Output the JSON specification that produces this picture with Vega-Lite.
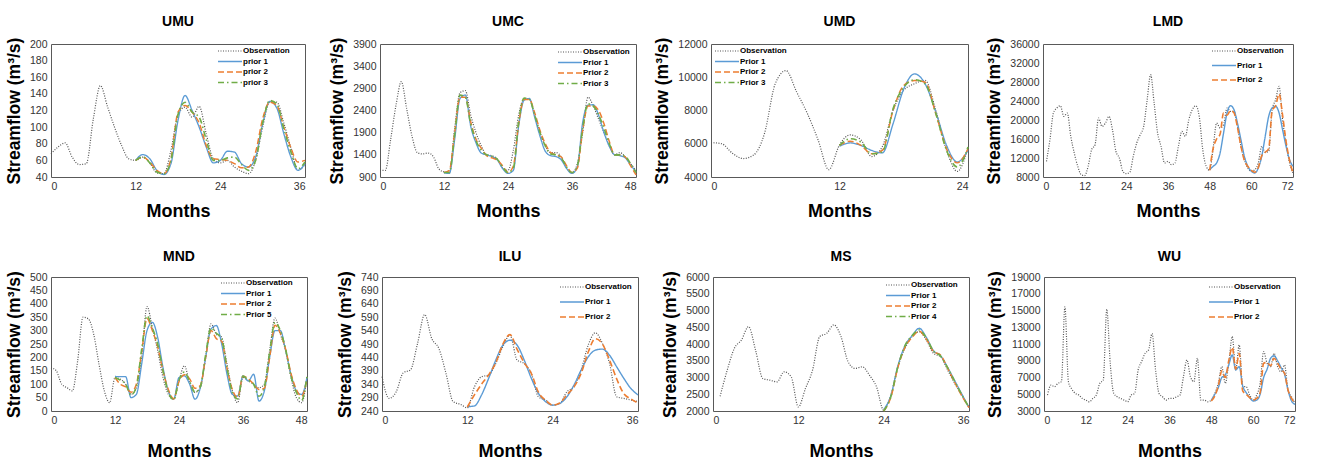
{
"$schema": "https://vega.github.io/schema/vega-lite/v6.json",
"padding": {"left": 4, "top": 14, "right": 5, "bottom": 2},
"config": {
  "font": "Liberation Sans",
  "view": {"stroke": "#595959", "strokeWidth": 1},
  "axis": {"labelFont": "Liberation Sans", "labelFontSize": 10.5, "labelColor": "#333333", "ticks": false, "domain": false, "grid": false, "titleFont": "Liberation Sans", "titleFontWeight": "bold", "titleColor": "#000000", "labelPadding": 4},
  "axisX": {"titleFontSize": 18, "titlePadding": 11},
  "axisY": {"titleFontSize": 17.5, "titlePadding": 6},
  "title": {"font": "Liberation Sans", "fontSize": 14, "fontWeight": "bold", "color": "#000000", "offset": 8},
  "legend": {"orient": "none", "title": null, "symbolType": "M-4,0L4,0", "symbolSize": 36, "symbolStrokeWidth": 1.5, "labelFont": "Liberation Sans", "labelFontSize": 8, "labelFontWeight": "bold", "labelColor": "#000000", "labelOffset": 9, "padding": 0, "rowPadding": 2.5}
},
"resolve": {"scale": {"color": "independent", "strokeDash": "independent", "strokeWidth": "independent"}, "legend": {"color": "independent", "strokeDash": "independent"}},
"vconcat": [
{
"resolve": {"scale": {"color": "independent", "strokeDash": "independent", "strokeWidth": "independent"}, "legend": {"color": "independent", "strokeDash": "independent"}},
"hconcat": [
{
 "title": "UMU", "width": 254, "height": 133,
 "data": {"values": [
  {"m":0,"Observation":68},{"m":1,"Observation":76},{"m":2,"Observation":81},{"m":3,"Observation":64},{"m":4,"Observation":55},{"m":5,"Observation":56},{"m":6,"Observation":110},{"m":7,"Observation":150},{"m":8,"Observation":125},{"m":9,"Observation":100},{"m":10,"Observation":78},{"m":11,"Observation":62},
  {"m":12,"Observation":60,"prior 1":60,"prior 2":60,"prior 3":60},
  {"m":13,"Observation":64,"prior 1":67,"prior 2":64,"prior 3":64},
  {"m":14,"Observation":57,"prior 1":62,"prior 2":58,"prior 3":57},
  {"m":15,"Observation":45,"prior 1":48,"prior 2":48,"prior 3":46},
  {"m":16,"Observation":44,"prior 1":43,"prior 2":44,"prior 3":44},
  {"m":17,"Observation":72,"prior 1":56,"prior 2":62,"prior 3":60},
  {"m":18,"Observation":115,"prior 1":108,"prior 2":118,"prior 3":115},
  {"m":19,"Observation":124,"prior 1":138,"prior 2":126,"prior 3":130},
  {"m":20,"Observation":112,"prior 1":120,"prior 2":118,"prior 3":118},
  {"m":21,"Observation":125,"prior 1":100,"prior 2":105,"prior 3":112},
  {"m":22,"Observation":92,"prior 1":76,"prior 2":78,"prior 3":85},
  {"m":23,"Observation":62,"prior 1":57,"prior 2":62,"prior 3":60},
  {"m":24,"Observation":57,"prior 1":60,"prior 2":61,"prior 3":60},
  {"m":25,"Observation":60,"prior 1":71,"prior 2":60,"prior 3":63},
  {"m":26,"Observation":52,"prior 1":70,"prior 2":56,"prior 3":64},
  {"m":27,"Observation":47,"prior 1":56,"prior 2":51,"prior 3":55},
  {"m":28,"Observation":44,"prior 1":52,"prior 2":52,"prior 3":48},
  {"m":29,"Observation":60,"prior 1":64,"prior 2":70,"prior 3":60},
  {"m":30,"Observation":100,"prior 1":104,"prior 2":110,"prior 3":105},
  {"m":31,"Observation":130,"prior 1":131,"prior 2":130,"prior 3":132},
  {"m":32,"Observation":130,"prior 1":123,"prior 2":126,"prior 3":128},
  {"m":33,"Observation":105,"prior 1":92,"prior 2":100,"prior 3":98},
  {"m":34,"Observation":75,"prior 1":64,"prior 2":75,"prior 3":70},
  {"m":35,"Observation":48,"prior 1":48,"prior 2":58,"prior 3":50},
  {"m":36,"Observation":55,"prior 1":56,"prior 2":60,"prior 3":58}
 ]},
 "transform": [{"fold": ["Observation","prior 1","prior 2","prior 3"], "as": ["series","value"]}],
 "mark": {"type": "line", "interpolate": "monotone"},
 "encoding": {
  "x": {"field": "m", "type": "quantitative", "scale": {"domain": [0,36], "nice": false}, "axis": {"values": [0,12,24,36], "title": "Months"}},
  "y": {"field": "value", "type": "quantitative", "scale": {"domain": [40,200], "nice": false, "zero": false}, "axis": {"values": [40,60,80,100,120,140,160,180,200], "title": "Streamflow (m³/s)"}},
  "color": {"field": "series", "type": "nominal", "scale": {"domain": ["Observation","prior 1","prior 2","prior 3"], "range": ["#555555","#5B9BD5","#ED7D31","#70AD47"]}, "legend": {"legendX": 175, "legendY": 3}},
  "strokeDash": {"field": "series", "type": "nominal", "scale": {"domain": ["Observation","prior 1","prior 2","prior 3"], "range": [[1,1.5],[1,0],[6,3],[6,3,1.5,3]]}, "legend": {"legendX": 175, "legendY": 3}},
  "strokeWidth": {"field": "series", "type": "nominal", "scale": {"domain": ["Observation","prior 1","prior 2","prior 3"], "range": [1.2,1.6,1.6,1.6]}, "legend": null}
 }
},
{
 "title": "UMC", "width": 256, "height": 133,
 "data": {"values": [
  {"m":0,"Observation":1050},{"m":1,"Observation":1050},{"m":2,"Observation":1750},{"m":3,"Observation":2520},{"m":4,"Observation":3050},{"m":5,"Observation":2440},{"m":6,"Observation":1820},{"m":7,"Observation":1450},{"m":8,"Observation":1420},{"m":9,"Observation":1440},{"m":10,"Observation":1360},{"m":11,"Observation":1090},
  {"m":12,"Observation":1015,"Prior 1":992,"Prior 2":1000,"Prior 3":1000},
  {"m":13,"Observation":1000,"Prior 1":980,"Prior 2":1050,"Prior 3":1000},
  {"m":14,"Observation":2000,"Prior 1":1750,"Prior 2":1900,"Prior 3":1850},
  {"m":15,"Observation":2800,"Prior 1":2670,"Prior 2":2700,"Prior 3":2750},
  {"m":16,"Observation":2850,"Prior 1":2750,"Prior 2":2700,"Prior 3":2700},
  {"m":17,"Observation":2300,"Prior 1":2050,"Prior 2":2150,"Prior 3":2100},
  {"m":18,"Observation":1900,"Prior 1":1670,"Prior 2":1750,"Prior 3":1720},
  {"m":19,"Observation":1600,"Prior 1":1440,"Prior 2":1550,"Prior 3":1500},
  {"m":20,"Observation":1400,"Prior 1":1400,"Prior 2":1380,"Prior 3":1400},
  {"m":21,"Observation":1380,"Prior 1":1360,"Prior 2":1330,"Prior 3":1370},
  {"m":22,"Observation":1300,"Prior 1":1285,"Prior 2":1280,"Prior 3":1300},
  {"m":23,"Observation":1100,"Prior 1":1090,"Prior 2":1150,"Prior 3":1120},
  {"m":24,"Observation":1050,"Prior 1":980,"Prior 2":1000,"Prior 3":1000},
  {"m":25,"Observation":1500,"Prior 1":1050,"Prior 2":1150,"Prior 3":1100},
  {"m":26,"Observation":2300,"Prior 1":2050,"Prior 2":2100,"Prior 3":2150},
  {"m":27,"Observation":2650,"Prior 1":2630,"Prior 2":2650,"Prior 3":2680},
  {"m":28,"Observation":2650,"Prior 1":2670,"Prior 2":2650,"Prior 3":2650},
  {"m":29,"Observation":2300,"Prior 1":2250,"Prior 2":2350,"Prior 3":2300},
  {"m":30,"Observation":1900,"Prior 1":1820,"Prior 2":1950,"Prior 3":1900},
  {"m":31,"Observation":1600,"Prior 1":1480,"Prior 2":1650,"Prior 3":1600},
  {"m":32,"Observation":1450,"Prior 1":1380,"Prior 2":1450,"Prior 3":1420},
  {"m":33,"Observation":1450,"Prior 1":1360,"Prior 2":1400,"Prior 3":1400},
  {"m":34,"Observation":1350,"Prior 1":1285,"Prior 2":1350,"Prior 3":1330},
  {"m":35,"Observation":1100,"Prior 1":1090,"Prior 2":1150,"Prior 3":1120},
  {"m":36,"Observation":1000,"Prior 1":980,"Prior 2":1000,"Prior 3":1000},
  {"m":37,"Observation":1200,"Prior 1":1130,"Prior 2":1100,"Prior 3":1150},
  {"m":38,"Observation":1900,"Prior 1":2130,"Prior 2":1950,"Prior 3":2000},
  {"m":39,"Observation":2700,"Prior 1":2520,"Prior 2":2500,"Prior 3":2550},
  {"m":40,"Observation":2500,"Prior 1":2530,"Prior 2":2500,"Prior 3":2500},
  {"m":41,"Observation":2200,"Prior 1":2290,"Prior 2":2400,"Prior 3":2300},
  {"m":42,"Observation":1900,"Prior 1":1900,"Prior 2":2100,"Prior 3":2000},
  {"m":43,"Observation":1600,"Prior 1":1590,"Prior 2":1700,"Prior 3":1650},
  {"m":44,"Observation":1400,"Prior 1":1400,"Prior 2":1400,"Prior 3":1400},
  {"m":45,"Observation":1450,"Prior 1":1380,"Prior 2":1400,"Prior 3":1400},
  {"m":46,"Observation":1350,"Prior 1":1330,"Prior 2":1350,"Prior 3":1360},
  {"m":47,"Observation":1200,"Prior 1":1170,"Prior 2":1150,"Prior 3":1200},
  {"m":48,"Observation":1050,"Prior 1":1020,"Prior 2":950,"Prior 3":1000}
 ]},
 "transform": [{"fold": ["Observation","Prior 1","Prior 2","Prior 3"], "as": ["series","value"]}],
 "mark": {"type": "line", "interpolate": "monotone"},
 "encoding": {
  "x": {"field": "m", "type": "quantitative", "scale": {"domain": [0,48], "nice": false}, "axis": {"values": [0,12,24,36,48], "title": "Months"}},
  "y": {"field": "value", "type": "quantitative", "scale": {"domain": [900,3900], "nice": false, "zero": false}, "axis": {"values": [900,1400,1900,2400,2900,3400,3900], "format": "d", "title": "Streamflow (m³/s)"}},
  "color": {"field": "series", "type": "nominal", "scale": {"domain": ["Observation","Prior 1","Prior 2","Prior 3"], "range": ["#555555","#5B9BD5","#ED7D31","#70AD47"]}, "legend": {"legendX": 186, "legendY": 4}},
  "strokeDash": {"field": "series", "type": "nominal", "scale": {"domain": ["Observation","Prior 1","Prior 2","Prior 3"], "range": [[1,1.5],[1,0],[6,3],[6,3,1.5,3]]}, "legend": {"legendX": 186, "legendY": 4}},
  "strokeWidth": {"field": "series", "type": "nominal", "scale": {"domain": ["Observation","Prior 1","Prior 2","Prior 3"], "range": [1.2,1.6,1.6,1.6]}, "legend": null}
 }
},
{
 "title": "UMD", "width": 257, "height": 133,
 "data": {"values": [
  {"m":0,"Observation":6070},{"m":1,"Observation":6000},{"m":2,"Observation":5430},{"m":3,"Observation":5110},{"m":4,"Observation":5330},{"m":5,"Observation":6630},{"m":6,"Observation":9610},{"m":7,"Observation":10400},{"m":8,"Observation":9110},{"m":9,"Observation":7820},{"m":10,"Observation":6230},{"m":11,"Observation":4440},
  {"m":12,"Observation":5930,"Prior 1":5850,"Prior 2":5900,"Prior 3":5900},
  {"m":13,"Observation":6530,"Prior 1":6050,"Prior 2":6150,"Prior 3":6300},
  {"m":14,"Observation":6230,"Prior 1":5900,"Prior 2":5900,"Prior 3":6100},
  {"m":15,"Observation":5230,"Prior 1":5600,"Prior 2":5400,"Prior 3":5400},
  {"m":16,"Observation":5830,"Prior 1":5450,"Prior 2":5600,"Prior 3":5500},
  {"m":17,"Observation":8020,"Prior 1":7200,"Prior 2":8000,"Prior 3":8100},
  {"m":18,"Observation":9210,"Prior 1":9300,"Prior 2":9500,"Prior 3":9400},
  {"m":19,"Observation":9610,"Prior 1":10200,"Prior 2":9800,"Prior 3":9850},
  {"m":20,"Observation":9810,"Prior 1":9600,"Prior 2":9700,"Prior 3":9600},
  {"m":21,"Observation":8000,"Prior 1":7900,"Prior 2":7800,"Prior 3":7800},
  {"m":22,"Observation":5600,"Prior 1":5900,"Prior 2":5700,"Prior 3":5600},
  {"m":23,"Observation":4340,"Prior 1":4900,"Prior 2":4850,"Prior 3":4600},
  {"m":24,"Observation":5730,"Prior 1":5600,"Prior 2":5700,"Prior 3":5800}
 ]},
 "transform": [{"fold": ["Observation","Prior 1","Prior 2","Prior 3"], "as": ["series","value"]}],
 "mark": {"type": "line", "interpolate": "monotone"},
 "encoding": {
  "x": {"field": "m", "type": "quantitative", "scale": {"domain": [0,24], "nice": false}, "axis": {"values": [0,12,24], "title": "Months"}},
  "y": {"field": "value", "type": "quantitative", "scale": {"domain": [4000,12000], "nice": false, "zero": false}, "axis": {"values": [4000,6000,8000,10000,12000], "format": "d", "title": "Streamflow (m³/s)"}},
  "color": {"field": "series", "type": "nominal", "scale": {"domain": ["Observation","Prior 1","Prior 2","Prior 3"], "range": ["#555555","#5B9BD5","#ED7D31","#70AD47"]}, "legend": {"legendX": 12, "legendY": 3}},
  "strokeDash": {"field": "series", "type": "nominal", "scale": {"domain": ["Observation","Prior 1","Prior 2","Prior 3"], "range": [[1,1.5],[1,0],[6,3],[6,3,1.5,3]]}, "legend": {"legendX": 12, "legendY": 3}},
  "strokeWidth": {"field": "series", "type": "nominal", "scale": {"domain": ["Observation","Prior 1","Prior 2","Prior 3"], "range": [1.2,1.6,1.6,1.6]}, "legend": null}
 }
},
{
 "title": "LMD", "width": 250, "height": 133,
 "data": {"values": [
  {"m":1,"Observation":11300},{"m":2,"Observation":15860},{"m":3,"Observation":21470},{"m":4,"Observation":22530},{"m":5,"Observation":23000},{"m":6,"Observation":20770},{"m":7,"Observation":21470},{"m":8,"Observation":16560},{"m":9,"Observation":13050},{"m":10,"Observation":10250},{"m":11,"Observation":8490},{"m":12,"Observation":8280},
  {"m":13,"Observation":10250},{"m":14,"Observation":13750},{"m":15,"Observation":14800},{"m":16,"Observation":20420},{"m":17,"Observation":18670},{"m":18,"Observation":19370},{"m":19,"Observation":20770},{"m":20,"Observation":17960},{"m":21,"Observation":13400},{"m":22,"Observation":12000},{"m":23,"Observation":9190},{"m":24,"Observation":8700},
  {"m":25,"Observation":8980},{"m":26,"Observation":12350},{"m":27,"Observation":15160},{"m":28,"Observation":16910},{"m":29,"Observation":18670},{"m":30,"Observation":24280},{"m":31,"Observation":29540},{"m":32,"Observation":23580},{"m":33,"Observation":17260},{"m":34,"Observation":14460},{"m":35,"Observation":10950},{"m":36,"Observation":11300},
  {"m":37,"Observation":10600},{"m":38,"Observation":10950},{"m":39,"Observation":14460},{"m":40,"Observation":17610},{"m":41,"Observation":16560},{"m":42,"Observation":20070},{"m":43,"Observation":22180},{"m":44,"Observation":23000},{"m":45,"Observation":20770},{"m":46,"Observation":13750},{"m":47,"Observation":10250},
  {"m":48,"Observation":9400,"Prior 1":9540,"Prior 2":9400},
  {"m":49,"Observation":14100,"Prior 1":10250,"Prior 2":14000},
  {"m":50,"Observation":19370,"Prior 1":10950,"Prior 2":16000},
  {"m":51,"Observation":18320,"Prior 1":13050,"Prior 2":17000},
  {"m":52,"Observation":19020,"Prior 1":17260,"Prior 2":21500},
  {"m":53,"Observation":22530,"Prior 1":21470,"Prior 2":21000},
  {"m":54,"Observation":21820,"Prior 1":23000,"Prior 2":22000},
  {"m":55,"Observation":21820,"Prior 1":22180,"Prior 2":21500},
  {"m":56,"Observation":18670,"Prior 1":19370,"Prior 2":18500},
  {"m":57,"Observation":14460,"Prior 1":15860,"Prior 2":14500},
  {"m":58,"Observation":11650,"Prior 1":12350,"Prior 2":11500},
  {"m":59,"Observation":9890,"Prior 1":10250,"Prior 2":10200},
  {"m":60,"Observation":9190,"Prior 1":9190,"Prior 2":9400},
  {"m":61,"Observation":9540,"Prior 1":8840,"Prior 2":9000},
  {"m":62,"Observation":10950,"Prior 1":9890,"Prior 2":10000},
  {"m":63,"Observation":14460,"Prior 1":12350,"Prior 2":12500},
  {"m":64,"Observation":13200,"Prior 1":16560,"Prior 2":13200},
  {"m":65,"Observation":13400,"Prior 1":20770,"Prior 2":14000},
  {"m":66,"Observation":22180,"Prior 1":22530,"Prior 2":22000},
  {"m":67,"Observation":24280,"Prior 1":22880,"Prior 2":23000},
  {"m":68,"Observation":27090,"Prior 1":21470,"Prior 2":25500},
  {"m":69,"Observation":20070,"Prior 1":17960,"Prior 2":21000},
  {"m":70,"Observation":15160,"Prior 1":14460,"Prior 2":15500},
  {"m":71,"Observation":10950,"Prior 1":11650,"Prior 2":11500},
  {"m":72,"Observation":8840,"Prior 1":10250,"Prior 2":8900}
 ]},
 "transform": [{"fold": ["Observation","Prior 1","Prior 2"], "as": ["series","value"]}],
 "mark": {"type": "line", "interpolate": "monotone"},
 "encoding": {
  "x": {"field": "m", "type": "quantitative", "scale": {"domain": [0,72], "nice": false}, "axis": {"values": [0,12,24,36,48,60,72], "title": "Months"}},
  "y": {"field": "value", "type": "quantitative", "scale": {"domain": [8000,36000], "nice": false, "zero": false}, "axis": {"values": [8000,12000,16000,20000,24000,28000,32000,36000], "format": "d", "title": "Streamflow (m³/s)"}},
  "color": {"field": "series", "type": "nominal", "scale": {"domain": ["Observation","Prior 1","Prior 2"], "range": ["#555555","#5B9BD5","#ED7D31"]}, "legend": {"legendX": 177, "legendY": 3, "rowPadding": 6.5}},
  "strokeDash": {"field": "series", "type": "nominal", "scale": {"domain": ["Observation","Prior 1","Prior 2"], "range": [[1,1.5],[1,0],[6,3]]}, "legend": {"legendX": 177, "legendY": 3, "rowPadding": 6.5}},
  "strokeWidth": {"field": "series", "type": "nominal", "scale": {"domain": ["Observation","Prior 1","Prior 2"], "range": [1.2,1.6,1.6]}, "legend": null}
 }
}
], "spacing": 75, "bounds": "flush"
},
{
"resolve": {"scale": {"color": "independent", "strokeDash": "independent", "strokeWidth": "independent"}, "legend": {"color": "independent", "strokeDash": "independent"}},
"hconcat": [
{
 "title": {"text": "MND", "offset": 7}, "width": 256, "height": 134,
 "data": {"values": [
  {"m":0,"Observation":162},{"m":1,"Observation":150},{"m":2,"Observation":100},{"m":3,"Observation":87},{"m":4,"Observation":75},{"m":5,"Observation":187},{"m":6,"Observation":350},{"m":7,"Observation":344},{"m":8,"Observation":287},{"m":9,"Observation":175},{"m":10,"Observation":75},{"m":11,"Observation":31},
  {"m":12,"Observation":125,"Prior 1":129,"Prior 2":125,"Prior 5":125},
  {"m":13,"Observation":119,"Prior 1":128,"Prior 2":100,"Prior 5":115},
  {"m":14,"Observation":100,"Prior 1":128,"Prior 2":90,"Prior 5":100},
  {"m":15,"Observation":62,"Prior 1":50,"Prior 2":70,"Prior 5":60},
  {"m":16,"Observation":87,"Prior 1":62,"Prior 2":100,"Prior 5":90},
  {"m":17,"Observation":200,"Prior 1":175,"Prior 2":220,"Prior 5":230},
  {"m":18,"Observation":390,"Prior 1":300,"Prior 2":345,"Prior 5":355},
  {"m":19,"Observation":312,"Prior 1":331,"Prior 2":300,"Prior 5":310},
  {"m":20,"Observation":225,"Prior 1":275,"Prior 2":240,"Prior 5":250},
  {"m":21,"Observation":125,"Prior 1":162,"Prior 2":150,"Prior 5":150},
  {"m":22,"Observation":62,"Prior 1":75,"Prior 2":80,"Prior 5":70},
  {"m":23,"Observation":44,"Prior 1":44,"Prior 2":45,"Prior 5":42},
  {"m":24,"Observation":112,"Prior 1":125,"Prior 2":110,"Prior 5":115},
  {"m":25,"Observation":169,"Prior 1":131,"Prior 2":135,"Prior 5":145},
  {"m":26,"Observation":106,"Prior 1":100,"Prior 2":120,"Prior 5":110},
  {"m":27,"Observation":69,"Prior 1":44,"Prior 2":85,"Prior 5":70},
  {"m":28,"Observation":87,"Prior 1":87,"Prior 2":95,"Prior 5":90},
  {"m":29,"Observation":200,"Prior 1":200,"Prior 2":200,"Prior 5":210},
  {"m":30,"Observation":325,"Prior 1":306,"Prior 2":300,"Prior 5":310},
  {"m":31,"Observation":287,"Prior 1":319,"Prior 2":270,"Prior 5":290},
  {"m":32,"Observation":275,"Prior 1":250,"Prior 2":260,"Prior 5":270},
  {"m":33,"Observation":175,"Prior 1":137,"Prior 2":160,"Prior 5":160},
  {"m":34,"Observation":75,"Prior 1":62,"Prior 2":80,"Prior 5":70},
  {"m":35,"Observation":31,"Prior 1":56,"Prior 2":50,"Prior 5":45},
  {"m":36,"Observation":125,"Prior 1":131,"Prior 2":130,"Prior 5":130},
  {"m":37,"Observation":112,"Prior 1":112,"Prior 2":120,"Prior 5":115},
  {"m":38,"Observation":100,"Prior 1":137,"Prior 2":100,"Prior 5":100},
  {"m":39,"Observation":87,"Prior 1":37,"Prior 2":80,"Prior 5":55},
  {"m":40,"Observation":100,"Prior 1":75,"Prior 2":85,"Prior 5":90},
  {"m":41,"Observation":225,"Prior 1":200,"Prior 2":200,"Prior 5":220},
  {"m":42,"Observation":347,"Prior 1":300,"Prior 2":320,"Prior 5":330},
  {"m":43,"Observation":287,"Prior 1":300,"Prior 2":290,"Prior 5":300},
  {"m":44,"Observation":225,"Prior 1":225,"Prior 2":230,"Prior 5":230},
  {"m":45,"Observation":125,"Prior 1":137,"Prior 2":140,"Prior 5":130},
  {"m":46,"Observation":50,"Prior 1":75,"Prior 2":80,"Prior 5":70},
  {"m":47,"Observation":31,"Prior 1":62,"Prior 2":55,"Prior 5":40},
  {"m":48,"Observation":125,"Prior 1":125,"Prior 2":120,"Prior 5":130}
 ]},
 "transform": [{"fold": ["Observation","Prior 1","Prior 2","Prior 5"], "as": ["series","value"]}],
 "mark": {"type": "line", "interpolate": "monotone"},
 "encoding": {
  "x": {"field": "m", "type": "quantitative", "scale": {"domain": [0,48], "nice": false}, "axis": {"values": [0,12,24,36,48], "title": "Months", "titlePadding": 17}},
  "y": {"field": "value", "type": "quantitative", "scale": {"domain": [0,500], "nice": false}, "axis": {"values": [0,50,100,150,200,250,300,350,400,450,500], "title": "Streamflow (m³/s)"}},
  "color": {"field": "series", "type": "nominal", "scale": {"domain": ["Observation","Prior 1","Prior 2","Prior 5"], "range": ["#555555","#5B9BD5","#ED7D31","#70AD47"]}, "legend": {"legendX": 178, "legendY": 2}},
  "strokeDash": {"field": "series", "type": "nominal", "scale": {"domain": ["Observation","Prior 1","Prior 2","Prior 5"], "range": [[1,1.5],[1,0],[6,3],[6,3,1.5,3]]}, "legend": {"legendX": 178, "legendY": 2}},
  "strokeWidth": {"field": "series", "type": "nominal", "scale": {"domain": ["Observation","Prior 1","Prior 2","Prior 5"], "range": [1.2,1.6,1.6,1.6]}, "legend": null}
 }
},
{
 "title": {"text": "ILU", "offset": 7}, "width": 256, "height": 134,
 "data": {"values": [
  {"m":0,"Observation":368},{"m":1,"Observation":287},{"m":2,"Observation":312},{"m":3,"Observation":383},{"m":4,"Observation":393},{"m":5,"Observation":492},{"m":6,"Observation":600},{"m":7,"Observation":510},{"m":8,"Observation":473},{"m":9,"Observation":380},{"m":10,"Observation":275},{"m":11,"Observation":265},
  {"m":12,"Observation":252,"Prior 1":256,"Prior 2":255},
  {"m":13,"Observation":330,"Prior 1":259,"Prior 2":300},
  {"m":14,"Observation":368,"Prior 1":300,"Prior 2":340},
  {"m":15,"Observation":374,"Prior 1":362,"Prior 2":375},
  {"m":16,"Observation":417,"Prior 1":430,"Prior 2":420},
  {"m":17,"Observation":480,"Prior 1":486,"Prior 2":490},
  {"m":18,"Observation":523,"Prior 1":504,"Prior 2":525},
  {"m":19,"Observation":430,"Prior 1":486,"Prior 2":470},
  {"m":20,"Observation":417,"Prior 1":430,"Prior 2":420},
  {"m":21,"Observation":380,"Prior 1":362,"Prior 2":380},
  {"m":22,"Observation":293,"Prior 1":306,"Prior 2":310},
  {"m":23,"Observation":281,"Prior 1":275,"Prior 2":280},
  {"m":24,"Observation":262,"Prior 1":262,"Prior 2":262},
  {"m":25,"Observation":268,"Prior 1":268,"Prior 2":270},
  {"m":26,"Observation":312,"Prior 1":293,"Prior 2":300},
  {"m":27,"Observation":330,"Prior 1":337,"Prior 2":330},
  {"m":28,"Observation":393,"Prior 1":393,"Prior 2":380},
  {"m":29,"Observation":486,"Prior 1":442,"Prior 2":460},
  {"m":30,"Observation":532,"Prior 1":467,"Prior 2":510},
  {"m":31,"Observation":492,"Prior 1":471,"Prior 2":490},
  {"m":32,"Observation":417,"Prior 1":448,"Prior 2":430},
  {"m":33,"Observation":293,"Prior 1":405,"Prior 2":360},
  {"m":34,"Observation":287,"Prior 1":362,"Prior 2":305},
  {"m":35,"Observation":281,"Prior 1":324,"Prior 2":285},
  {"m":36,"Observation":275,"Prior 1":300,"Prior 2":270}
 ]},
 "transform": [{"fold": ["Observation","Prior 1","Prior 2"], "as": ["series","value"]}],
 "mark": {"type": "line", "interpolate": "monotone"},
 "encoding": {
  "x": {"field": "m", "type": "quantitative", "scale": {"domain": [0,36], "nice": false}, "axis": {"values": [0,12,24,36], "title": "Months", "titlePadding": 17}},
  "y": {"field": "value", "type": "quantitative", "scale": {"domain": [240,740], "nice": false, "zero": false}, "axis": {"values": [240,290,340,390,440,490,540,590,640,690,740], "title": "Streamflow (m³/s)"}},
  "color": {"field": "series", "type": "nominal", "scale": {"domain": ["Observation","Prior 1","Prior 2"], "range": ["#555555","#5B9BD5","#ED7D31"]}, "legend": {"legendX": 186, "legendY": 6, "rowPadding": 7}},
  "strokeDash": {"field": "series", "type": "nominal", "scale": {"domain": ["Observation","Prior 1","Prior 2"], "range": [[1,1.5],[1,0],[6,3]]}, "legend": {"legendX": 186, "legendY": 6, "rowPadding": 7}},
  "strokeWidth": {"field": "series", "type": "nominal", "scale": {"domain": ["Observation","Prior 1","Prior 2"], "range": [1.2,1.6,1.6]}, "legend": null}
 }
},
{
 "title": {"text": "MS", "offset": 7}, "width": 256, "height": 134,
 "data": {"values": [
  {"m":1,"Observation":2440},{"m":2,"Observation":3220},{"m":3,"Observation":3870},{"m":4,"Observation":4120},{"m":5,"Observation":4520},{"m":6,"Observation":3800},{"m":7,"Observation":2970},{"m":8,"Observation":2920},{"m":9,"Observation":2870},{"m":10,"Observation":3170},{"m":11,"Observation":3020},{"m":12,"Observation":2120},
  {"m":13,"Observation":2670},{"m":14,"Observation":3220},{"m":15,"Observation":4220},{"m":16,"Observation":4320},{"m":17,"Observation":4570},{"m":18,"Observation":4220},{"m":19,"Observation":3470},{"m":20,"Observation":3270},{"m":21,"Observation":3320},{"m":22,"Observation":3070},{"m":23,"Observation":2720},
  {"m":24,"Observation":2020,"Prior 1":2050,"Prior 2":2000,"Prior 4":2000},
  {"m":25,"Observation":2470,"Prior 1":2450,"Prior 2":2400,"Prior 4":2420},
  {"m":26,"Observation":3320,"Prior 1":3350,"Prior 2":3300,"Prior 4":3320},
  {"m":27,"Observation":3870,"Prior 1":3950,"Prior 2":3900,"Prior 4":3950},
  {"m":28,"Observation":4220,"Prior 1":4250,"Prior 2":4200,"Prior 4":4250},
  {"m":29,"Observation":4370,"Prior 1":4470,"Prior 2":4380,"Prior 4":4420},
  {"m":30,"Observation":4120,"Prior 1":4200,"Prior 2":4150,"Prior 4":4180},
  {"m":31,"Observation":3720,"Prior 1":3800,"Prior 2":3780,"Prior 4":3790},
  {"m":32,"Observation":3620,"Prior 1":3650,"Prior 2":3670,"Prior 4":3640},
  {"m":33,"Observation":3220,"Prior 1":3300,"Prior 2":3280,"Prior 4":3290},
  {"m":34,"Observation":2820,"Prior 1":2900,"Prior 2":2850,"Prior 4":2880},
  {"m":35,"Observation":2470,"Prior 1":2500,"Prior 2":2450,"Prior 4":2480},
  {"m":36,"Observation":2120,"Prior 1":2100,"Prior 2":2100,"Prior 4":2100}
 ]},
 "transform": [{"fold": ["Observation","Prior 1","Prior 2","Prior 4"], "as": ["series","value"]}],
 "mark": {"type": "line", "interpolate": "monotone"},
 "encoding": {
  "x": {"field": "m", "type": "quantitative", "scale": {"domain": [0,36], "nice": false}, "axis": {"values": [0,12,24,36], "title": "Months", "titlePadding": 17}},
  "y": {"field": "value", "type": "quantitative", "scale": {"domain": [2000,6000], "nice": false, "zero": false}, "axis": {"values": [2000,2500,3000,3500,4000,4500,5000,5500,6000], "format": "d", "title": "Streamflow (m³/s)"}},
  "color": {"field": "series", "type": "nominal", "scale": {"domain": ["Observation","Prior 1","Prior 2","Prior 4"], "range": ["#555555","#5B9BD5","#ED7D31","#70AD47"]}, "legend": {"legendX": 181, "legendY": 4}},
  "strokeDash": {"field": "series", "type": "nominal", "scale": {"domain": ["Observation","Prior 1","Prior 2","Prior 4"], "range": [[1,1.5],[1,0],[6,3],[6,3,1.5,3]]}, "legend": {"legendX": 181, "legendY": 4}},
  "strokeWidth": {"field": "series", "type": "nominal", "scale": {"domain": ["Observation","Prior 1","Prior 2","Prior 4"], "range": [1.2,1.6,1.6,1.6]}, "legend": null}
 }
},
{
 "title": {"text": "WU", "offset": 7}, "width": 251, "height": 134,
 "data": {"values": [
  {"m":1,"Observation":4900},{"m":2,"Observation":6100},{"m":3,"Observation":5900},{"m":4,"Observation":6300},{"m":5,"Observation":6500},{"m":6,"Observation":15430},{"m":7,"Observation":6500},{"m":8,"Observation":5600},{"m":9,"Observation":5100},{"m":10,"Observation":4900},{"m":11,"Observation":4500},{"m":12,"Observation":4300},
  {"m":13,"Observation":4100},{"m":14,"Observation":4500},{"m":15,"Observation":4900},{"m":16,"Observation":6300},{"m":17,"Observation":6700},{"m":18,"Observation":15150},{"m":19,"Observation":8700},{"m":20,"Observation":5100},{"m":21,"Observation":4700},{"m":22,"Observation":4500},{"m":23,"Observation":4300},{"m":24,"Observation":4100},
  {"m":25,"Observation":4900},{"m":26,"Observation":5100},{"m":27,"Observation":7900},{"m":28,"Observation":8900},{"m":29,"Observation":9900},{"m":30,"Observation":10300},{"m":31,"Observation":12250},{"m":32,"Observation":7900},{"m":33,"Observation":5100},{"m":34,"Observation":4700},{"m":35,"Observation":4300},{"m":36,"Observation":4500},
  {"m":37,"Observation":4500},{"m":38,"Observation":4700},{"m":39,"Observation":4900},{"m":40,"Observation":7100},{"m":41,"Observation":9100},{"m":42,"Observation":7100},{"m":43,"Observation":6500},{"m":44,"Observation":9300},{"m":45,"Observation":4300},{"m":46,"Observation":4300},{"m":47,"Observation":4100},
  {"m":48,"Observation":4300,"Prior 1":4300,"Prior 2":4200},
  {"m":49,"Observation":5100,"Prior 1":5000,"Prior 2":4800},
  {"m":50,"Observation":6300,"Prior 1":5800,"Prior 2":6000},
  {"m":51,"Observation":8300,"Prior 1":7000,"Prior 2":7800},
  {"m":52,"Observation":6300,"Prior 1":7300,"Prior 2":7000},
  {"m":53,"Observation":8700,"Prior 1":8500,"Prior 2":9000},
  {"m":54,"Observation":11900,"Prior 1":9700,"Prior 2":10600},
  {"m":55,"Observation":7900,"Prior 1":7900,"Prior 2":8000},
  {"m":56,"Observation":10900,"Prior 1":8300,"Prior 2":9900},
  {"m":57,"Observation":5900,"Prior 1":6000,"Prior 2":5400},
  {"m":58,"Observation":5900,"Prior 1":5200,"Prior 2":5000},
  {"m":59,"Observation":4900,"Prior 1":4600,"Prior 2":4600},
  {"m":60,"Observation":4300,"Prior 1":4200,"Prior 2":4300},
  {"m":61,"Observation":4900,"Prior 1":4300,"Prior 2":4500},
  {"m":62,"Observation":6300,"Prior 1":5000,"Prior 2":5200},
  {"m":63,"Observation":10100,"Prior 1":7000,"Prior 2":8700},
  {"m":64,"Observation":8700,"Prior 1":8000,"Prior 2":8800},
  {"m":65,"Observation":8300,"Prior 1":9300,"Prior 2":8400},
  {"m":66,"Observation":9900,"Prior 1":9600,"Prior 2":9300},
  {"m":67,"Observation":8300,"Prior 1":9000,"Prior 2":8700},
  {"m":68,"Observation":7700,"Prior 1":8200,"Prior 2":8000},
  {"m":69,"Observation":8500,"Prior 1":7400,"Prior 2":7500},
  {"m":70,"Observation":5500,"Prior 1":5500,"Prior 2":5500},
  {"m":71,"Observation":4700,"Prior 1":4200,"Prior 2":4500},
  {"m":72,"Observation":3900,"Prior 1":3800,"Prior 2":4000}
 ]},
 "transform": [{"fold": ["Observation","Prior 1","Prior 2"], "as": ["series","value"]}],
 "mark": {"type": "line", "interpolate": "monotone"},
 "encoding": {
  "x": {"field": "m", "type": "quantitative", "scale": {"domain": [0,72], "nice": false}, "axis": {"values": [0,12,24,36,48,60,72], "title": "Months", "titlePadding": 17}},
  "y": {"field": "value", "type": "quantitative", "scale": {"domain": [3000,19000], "nice": false, "zero": false}, "axis": {"values": [3000,5000,7000,9000,11000,13000,15000,17000,19000], "format": "d", "title": "Streamflow (m³/s)"}},
  "color": {"field": "series", "type": "nominal", "scale": {"domain": ["Observation","Prior 1","Prior 2"], "range": ["#555555","#5B9BD5","#ED7D31"]}, "legend": {"legendX": 173, "legendY": 6, "rowPadding": 7}},
  "strokeDash": {"field": "series", "type": "nominal", "scale": {"domain": ["Observation","Prior 1","Prior 2"], "range": [[1,1.5],[1,0],[6,3]]}, "legend": {"legendX": 173, "legendY": 6, "rowPadding": 7}},
  "strokeWidth": {"field": "series", "type": "nominal", "scale": {"domain": ["Observation","Prior 1","Prior 2"], "range": [1.2,1.6,1.6]}, "legend": null}
 }
}
], "spacing": 75, "bounds": "flush"
}
], "spacing": 28
}
